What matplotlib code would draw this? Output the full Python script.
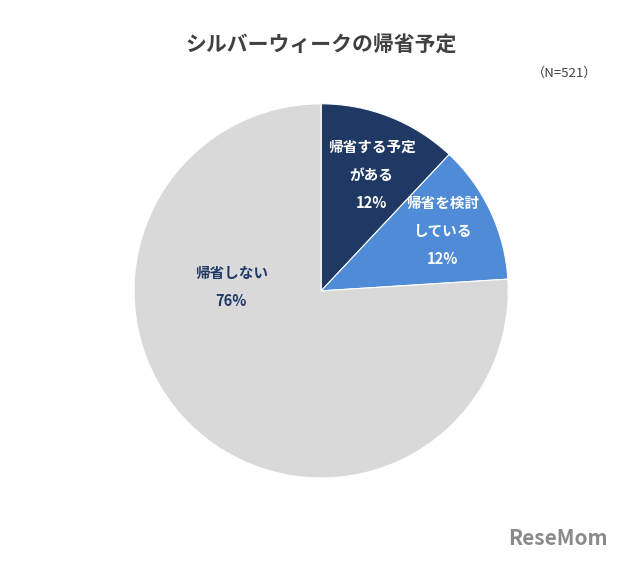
import matplotlib.pyplot as plt

plt.rcParams['font.family'] = ['Noto Sans CJK JP', 'DejaVu Sans']

labels = ['帰省する予定\nがある', '帰省を検討\nしている', '帰省しない']
values = [12, 12, 76]
colors = ['#1f3864', '#4f8bd6', '#d9d9d9']
text_colors = ['white', 'white', '#1f3864']
label_pos = [(0.27, 0.62), (0.65, 0.32), (-0.48, 0.02)]

fig = plt.figure(figsize=(6.26, 5.61), dpi=100)
ax = fig.add_axes([0.214, 0.148, 0.598, 0.667])
ax.pie(values, colors=colors, startangle=90, counterclock=False,
       wedgeprops=dict(edgecolor='white', linewidth=0.8))
ax.set_xlim(-1, 1)
ax.set_ylim(-1, 1)
ax.set_aspect('equal')

for lab, v, c, (x, y) in zip(labels, values, text_colors, label_pos):
    ax.text(x, y, f"{lab}\n{v}%", ha='center', va='center', color=c,
            fontsize=10.5, fontweight='bold', linespacing=1.9)

fig.text(0.513, 0.92, 'シルバーウィークの帰省予定', ha='center', va='center',
         fontsize=15, fontweight='bold', color='#404040')
fig.text(0.955, 0.87, '（N=521）', ha='right', va='center', fontsize=9.5, color='#404040')
fig.text(0.97, 0.04, 'ReseMom', ha='right', va='center', fontsize=15,
         fontweight='bold', color='#8a8a8a')

fig.savefig('out.png', dpi=100)
